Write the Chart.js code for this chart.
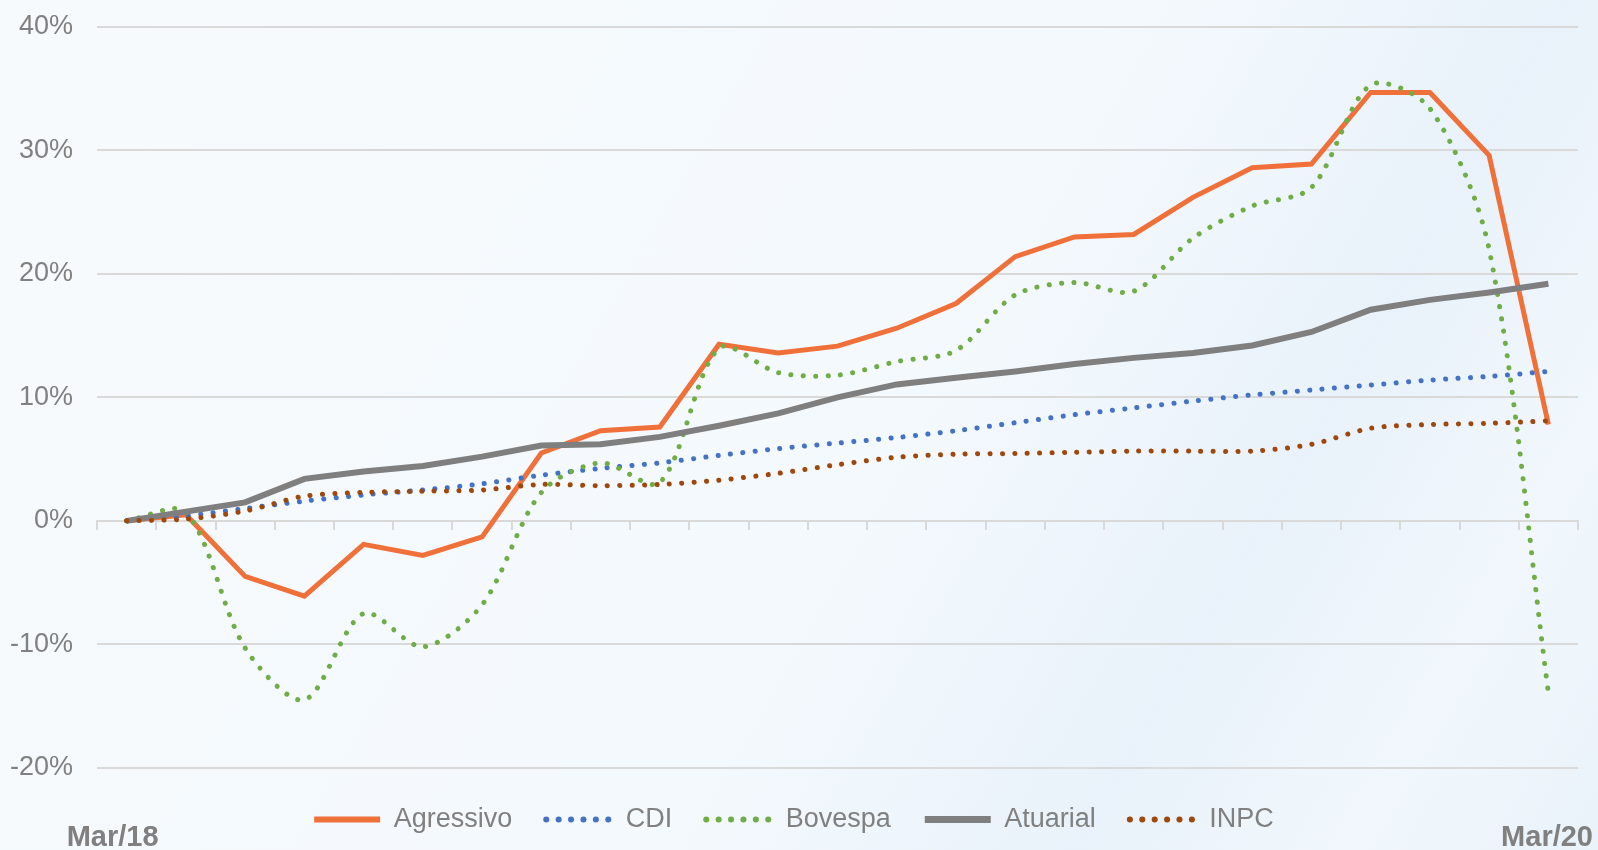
<!DOCTYPE html>
<html>
<head>
<meta charset="utf-8">
<script src="https://cdn.jsdelivr.net/npm/chart.js@4.4.1/dist/chart.umd.min.js"></script>
<style>
  html, body { margin: 0; padding: 0; }
  body {
    width: 1598px; height: 850px; overflow: hidden;
    background: linear-gradient(120deg, #f6fafd 0%, #f4f9fd 55%, #e9f2fa 75%, #f1f7fc 88%, #eaf3fa 100%);
  }
  canvas { display: block; }
</style>
</head>
<body>
<canvas id="chart" width="1598" height="850"></canvas>
<script>
// Monthly accumulated returns (%), Mar/18 to Mar/20
const months = ['Mar/18', 'Abr/18', 'Mai/18', 'Jun/18', 'Jul/18', 'Ago/18', 'Set/18', 'Out/18', 'Nov/18', 'Dez/18',
                'Jan/19', 'Fev/19', 'Mar/19', 'Abr/19', 'Mai/19', 'Jun/19', 'Jul/19', 'Ago/19', 'Set/19', 'Out/19',
                'Nov/19', 'Dez/19', 'Jan/20', 'Fev/20', 'Mar/20'];

const agressivo = [0, 0.5, -4.5, -6.1, -1.9, -2.8, -1.3, 5.5, 7.3, 7.6, 14.3, 13.6, 14.15, 15.6, 17.6, 21.4, 23.0, 23.2, 26.2, 28.6, 28.9, 34.7, 34.7, 29.6, 7.8];
const cdi = [0, 0.4, 1.0, 1.6, 2.1, 2.5, 3.0, 3.7, 4.25, 4.7, 5.3, 5.85, 6.3, 6.75, 7.3, 7.95, 8.6, 9.15, 9.7, 10.2, 10.6, 11.0, 11.4, 11.7, 12.1];
const bovespa = [0, 0.7, -10.3, -14.5, -7.5, -10.2, -6.8, 2.3, 4.7, 3.1, 14.0, 12.0, 11.8, 12.9, 13.8, 18.3, 19.3, 18.6, 22.9, 25.5, 27.0, 35.3, 33.4, 22.0, -13.9];
const atuarial = [0, 0.75, 1.5, 3.4, 4.0, 4.45, 5.2, 6.1, 6.2, 6.8, 7.7, 8.7, 10.0, 11.05, 11.6, 12.1, 12.7, 13.2, 13.6, 14.2, 15.3, 17.1, 17.9, 18.5, 19.2];
const inpc = [0, 0.15, 0.8, 2.0, 2.3, 2.4, 2.5, 2.95, 2.85, 2.95, 3.3, 3.85, 4.55, 5.15, 5.4, 5.45, 5.55, 5.65, 5.65, 5.65, 6.2, 7.5, 7.8, 7.9, 8.1];

const yTicks = [-20, -10, 0, 10, 20, 30, 40];

const FONT = '"Liberation Sans", Arial, sans-serif';
const GRAY = '#808080';
const DOTS = [0.1, 12.3];

// Mar/18 and Mar/20 under the plot
const edgeLabels = {
    id: 'edgeLabels',
    afterDraw(chart) {
        const ctx = chart.ctx;
        const x = chart.scales.x;
        ctx.save();
        ctx.font = 'bold 29px ' + FONT;
        ctx.fillStyle = GRAY;
        ctx.textBaseline = 'alphabetic';
        ctx.textAlign = 'center';
        ctx.fillText(months[0], x.getPixelForValue(0) - 14, chart.height - 4);
        ctx.textAlign = 'right';
        ctx.fillText(months[months.length - 1], chart.width - 5, chart.height - 4);
        ctx.restore();
    }
};

function line(label, data, color, width, dotted, order) {
    return {
        label: label,
        data: data,
        borderColor: color,
        backgroundColor: color,
        borderWidth: width,
        borderDash: dotted ? DOTS : [],
        borderCapStyle: dotted ? 'round' : 'butt',
        tension: dotted ? 0.3 : 0,
        pointRadius: 0,
        fill: false,
        order: order
    };
}

new Chart(document.getElementById('chart').getContext('2d'), {
    type: 'line',
    data: {
        labels: months,
        datasets: [
            line('Agressivo', agressivo, '#F0703A', 5, false, 5),
            line('CDI', cdi, '#4472C4', 5, true, 4),
            line('Bovespa', bovespa, '#70AD47', 5, true, 3),
            line('Atuarial', atuarial, '#7F7F7F', 6, false, 2),
            line('INPC', inpc, '#9E480E', 5, true, 1)
        ]
    },
    options: {
        responsive: false,
        animation: false,
        layout: { padding: { top: 27, left: 10, right: 20, bottom: 7 } },
        plugins: {
            legend: {
                position: 'bottom',
                // empty title just to leave a little room above the legend
                title: { display: true, text: '', font: { size: 1 }, padding: { top: 0, bottom: 3 } },
                labels: {
                    usePointStyle: true,
                    pointStyle: 'line',
                    pointStyleWidth: 66,
                    padding: 34,
                    color: GRAY,
                    font: { size: 27, family: FONT },
                    sort: (a, b) => a.datasetIndex - b.datasetIndex,
                    generateLabels: chart => Chart.defaults.plugins.legend.labels.generateLabels(chart).map(item => {
                        const ds = chart.data.datasets[item.datasetIndex];
                        item.lineDash = ds.borderDash;
                        item.lineCap = ds.borderCapStyle;
                        item.lineWidth = ds.borderWidth + 1;
                        return item;
                    })
                }
            },
            tooltip: { enabled: false }
        },
        scales: {
            x: {
                position: { y: 0 },
                offset: true,
                grid: { offset: true, drawOnChartArea: false, drawTicks: true, tickLength: 8, color: '#d9d9d9', lineWidth: 2 },
                border: { display: true, color: '#d9d9d9', width: 2 },
                ticks: { display: false, autoSkip: false }
            },
            y: {
                min: yTicks[0],
                max: yTicks[yTicks.length - 1],
                afterBuildTicks: axis => { axis.ticks = yTicks.map(v => ({ value: v })); },
                ticks: { callback: v => v + '%', color: GRAY, font: { size: 27, family: FONT }, padding: 0 },
                grid: { color: '#d9d9d9', lineWidth: 2, drawTicks: true, tickLength: 24, tickColor: 'rgba(0,0,0,0)' },
                border: { display: false }
            }
        }
    },
    plugins: [edgeLabels]
});
</script>
</body>
</html>
